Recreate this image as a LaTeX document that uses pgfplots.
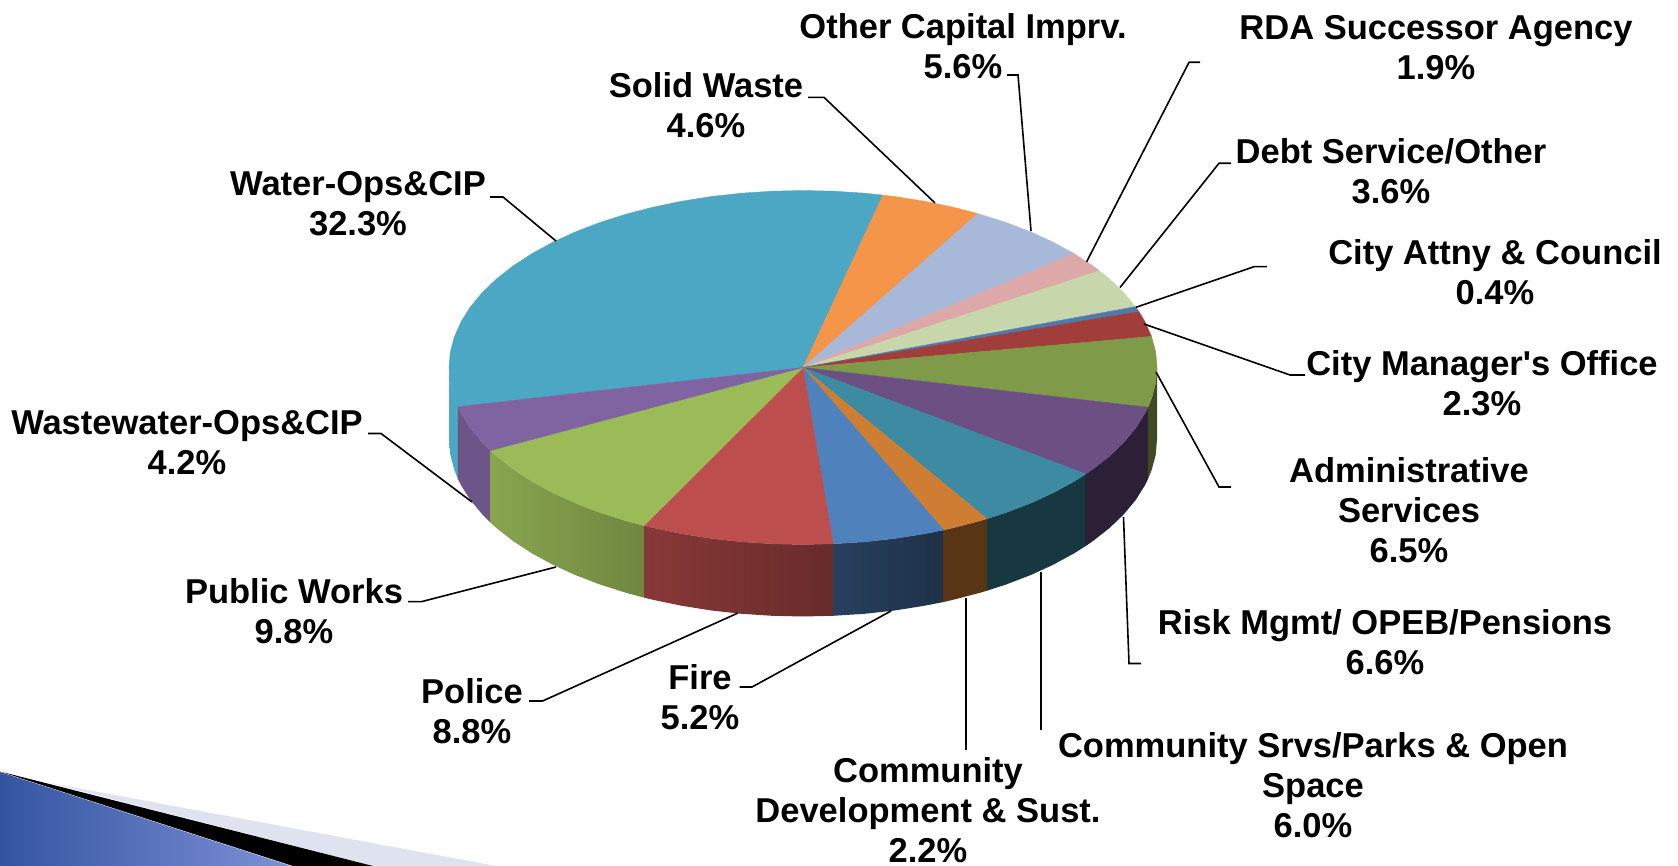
\documentclass[border=0pt]{standalone}
\usepackage{fontspec}
\setmainfont{Liberation Sans}[Ligatures=TeXOff]
\usepackage{pgfplots}
\pgfplotsset{compat=1.18}

% top faces
\definecolor{cWater}{HTML}{4BA7C3}
\definecolor{cSolid}{HTML}{F4954A}
\definecolor{cOther}{HTML}{A7B8D8}
\definecolor{cRDA}{HTML}{DDA9A8}
\definecolor{cDebt}{HTML}{C7D7AB}
\definecolor{cAtty}{HTML}{4F7AAE}
\definecolor{cCM}{HTML}{A13E3B}
\definecolor{cAdmin}{HTML}{7F9A48}
\definecolor{cRisk}{HTML}{6C5084}
\definecolor{cSrv}{HTML}{3C8BA3}
\definecolor{cDev}{HTML}{CE7E33}
\definecolor{cFire}{HTML}{4F81BD}
\definecolor{cPolice}{HTML}{BC4F4D}
\definecolor{cPW}{HTML}{9BBB59}
\definecolor{cWW}{HTML}{8064A2}
\definecolor{cPale}{HTML}{DFE3F0}
\definecolor{cCornerA}{HTML}{3454A0}
\definecolor{cCornerB}{HTML}{7D91D7}

\pgfplotsset{
  top/.style={draw=#1, fill=#1, line width=0.4pt, line join=round},
  side/.style n args={2}{draw=none, left color=#1, right color=#2},
  leader/.style={black, line width=1.6pt, line join=miter},
}

\tikzset{lab/.style={align=center, inner sep=0pt, font=\fontsize{34.5}{40}\selectfont\bfseries}}

\begin{document}
\begin{tikzpicture}
\begin{axis}[
    scale only axis, width=1678pt, height=866pt,
    xmin=0, xmax=1678, ymin=0, ymax=866,
    y dir=reverse, hide axis, clip=false,
  ]
  \path (axis cs:0,0) rectangle (axis cs:1678,866);

  % corner decoration
  \addplot[draw=none, fill=cPale] coordinates {(50,783) (496,866) (373,866)} -- cycle;
  \addplot[draw=none, fill=black] coordinates {(0,771.5) (293,866) (373,866)} -- cycle;
  \addplot[draw=none, left color=cCornerA, right color=cCornerB] coordinates {(0,772) (0,866) (291,866)} -- cycle;

  % side walls
  \addplot[side={cWater}{cWater}] coordinates {(449,367.5) (450.3,382.9) (454.4,398.2) (457.8,406.7) (457.8,478.7) (454.4,470.2) (450.3,454.9) (449,439.5)} -- cycle;
  \addplot[side={cWW!85!black}{cWW!85!black}] coordinates {(457.8,406.7) (461.1,413.3) (470.3,428) (482.2,442.3) (490.4,450.6) (490.4,522.6) (482.2,514.3) (470.3,500) (461.1,485.3) (457.8,478.7)} -- cycle;
  \addplot[side={cPW!88!black}{cPW!72!black}] coordinates {(490.4,450.6) (496.4,456) (513,469) (531.8,481.3) (552.7,492.7) (575.4,503.1) (599.9,512.5) (626,520.8) (644,525.6) (644,597.6) (626,592.8) (599.9,584.5) (575.4,575.1) (552.7,564.7) (531.8,553.3) (513,541) (496.4,528) (490.4,522.6)} -- cycle;
  \addplot[side={cPolice!72!black}{cPolice!55!black}] coordinates {(644,525.6) (653.4,527.9) (681.9,533.8) (711.4,538.5) (741.5,541.8) (772.1,543.8) (803,544.5) (833.2,543.8) (833.2,615.8) (803,616.5) (772.1,615.8) (741.5,613.8) (711.4,610.5) (681.9,605.8) (653.4,599.9) (644,597.6)} -- cycle;
  \addplot[side={cFire!50!black}{cFire!38!black}] coordinates {(833.2,543.8) (864.5,541.8) (894.6,538.5) (924.1,533.8) (943.6,530) (943.6,602) (924.1,605.8) (894.6,610.5) (864.5,613.8) (833.2,615.8)} -- cycle;
  \addplot[side={cDev!42!black}{cDev!42!black}] coordinates {(943.6,530) (952.6,527.9) (980,520.8) (986.9,518.7) (986.9,590.7) (980,592.8) (952.6,599.9) (943.6,602)} -- cycle;
  \addplot[side={cSrv!40!black}{cSrv!40!black}] coordinates {(986.9,518.7) (1006.1,512.5) (1030.6,503.1) (1053.3,492.7) (1074.2,481.3) (1085.7,474) (1085.7,546) (1074.2,553.3) (1053.3,564.7) (1030.6,575.1) (1006.1,584.5) (986.9,590.7)} -- cycle;
  \addplot[side={cRisk!40!black}{cRisk!40!black}] coordinates {(1085.7,474) (1093,469) (1109.6,456) (1123.8,442.3) (1135.7,428) (1144.9,413.3) (1147.9,407.3) (1147.9,479.3) (1144.9,485.3) (1135.7,500) (1123.8,514.3) (1109.6,528) (1093,541) (1085.7,546)} -- cycle;
  \addplot[side={cAdmin!48!black}{cAdmin!48!black}] coordinates {(1147.9,407.3) (1151.6,398.2) (1155.7,382.9) (1157,367.5) (1157,439.5) (1155.7,454.9) (1151.6,470.2) (1147.9,479.3)} -- cycle;

  % top face
  \addplot[top=cWater] coordinates {(803,367.5) (457.8,406.7) (454.4,398.2) (450.3,382.9) (449,367.5) (450.3,352.1) (454.4,336.8) (461.1,321.7) (470.3,307) (482.2,292.7) (496.4,279) (513,266) (531.8,253.7) (552.7,242.3) (575.4,231.9) (599.9,222.5) (626,214.2) (653.4,207.1) (681.9,201.2) (711.4,196.5) (741.5,193.2) (772.1,191.2) (803,190.5) (833.9,191.2) (864.5,193.2) (882.9,195.1)} -- cycle;
  \addplot[top=cSolid] coordinates {(803,367.5) (882.9,195.1) (894.6,196.5) (924.1,201.2) (952.6,207.1) (977.8,213.6)} -- cycle;
  \addplot[top=cOther] coordinates {(803,367.5) (977.8,213.6) (1006.1,222.5) (1030.6,231.9) (1053.3,242.3) (1074.2,253.7)} -- cycle;
  \addplot[top=cRDA] coordinates {(803,367.5) (1074.2,253.7) (1093,266) (1099.5,270.8)} -- cycle;
  \addplot[top=cDebt] coordinates {(803,367.5) (1099.5,270.8) (1109.6,279) (1123.8,292.7) (1135.4,306.7)} -- cycle;
  \addplot[top=cAtty] coordinates {(803,367.5) (1135.4,306.7) (1138.9,311.6)} -- cycle;
  \addplot[top=cCM] coordinates {(803,367.5) (1138.9,311.6) (1144.9,321.7) (1151.5,336.5)} -- cycle;
  \addplot[top=cAdmin] coordinates {(803,367.5) (1151.5,336.5) (1155.7,352.1) (1157,367.5) (1155.7,382.9) (1151.6,398.2) (1147.9,407.3)} -- cycle;
  \addplot[top=cRisk] coordinates {(803,367.5) (1147.9,407.3) (1144.9,413.3) (1135.7,428) (1123.8,442.3) (1109.6,456) (1093,469) (1085.7,474)} -- cycle;
  \addplot[top=cSrv] coordinates {(803,367.5) (1085.7,474) (1074.2,481.3) (1053.3,492.7) (1030.6,503.1) (1006.1,512.5) (986.9,518.7)} -- cycle;
  \addplot[top=cDev] coordinates {(803,367.5) (986.9,518.7) (980,520.8) (952.6,527.9) (943.6,530)} -- cycle;
  \addplot[top=cFire] coordinates {(803,367.5) (943.6,530) (924.1,533.8) (894.6,538.5) (864.5,541.8) (833.2,543.8)} -- cycle;
  \addplot[top=cPolice] coordinates {(803,367.5) (833.2,543.8) (803,544.5) (772.1,543.8) (741.5,541.8) (711.4,538.5) (681.9,533.8) (653.4,527.9) (644,525.6)} -- cycle;
  \addplot[top=cPW] coordinates {(803,367.5) (644,525.6) (626,520.8) (599.9,512.5) (575.4,503.1) (552.7,492.7) (531.8,481.3) (513,469) (496.4,456) (490.4,450.6)} -- cycle;
  \addplot[top=cWW] coordinates {(803,367.5) (490.4,450.6) (482.2,442.3) (470.3,428) (461.1,413.3) (457.8,406.7)} -- cycle;

  % leader lines
  \addplot[leader] coordinates {(490,197) (503,197) (556,241)};
  \addplot[leader] coordinates {(808,97.4) (824,97.4) (935,203)};
  \addplot[leader] coordinates {(1007,75) (1018,75) (1031,231)};
  \addplot[leader] coordinates {(1200,62.3) (1189,62.3) (1086.5,262)};
  \addplot[leader] coordinates {(1231,163.3) (1219,163.3) (1120,287.5)};
  \addplot[leader] coordinates {(1267,266.7) (1254,266.7) (1136,307.3)};
  \addplot[leader] coordinates {(1305,375) (1290,375) (1144,324)};
  \addplot[leader] coordinates {(1231,487) (1219,487) (1156,372)};
  \addplot[leader] coordinates {(1141,663.5) (1129,663.5) (1123.5,517)};
  \addplot[leader] coordinates {(1041,730) (1041,571.7)};
  \addplot[leader] coordinates {(966,750) (966,598)};
  \addplot[leader] coordinates {(739.5,687) (752,687) (891,611)};
  \addplot[leader] coordinates {(529,701) (542.6,701) (738,613)};
  \addplot[leader] coordinates {(408,601.6) (421.7,601.6) (556,567)};
  \addplot[leader] coordinates {(368,433.5) (381,433.5) (472,502)};

  % labels
  \node[lab] at (axis cs:963,46) {Other Capital Imprv.\\5.6\%};
  \node[lab] at (axis cs:1436,48) {RDA Successor Agency\\1.9\%};
  \node[lab] at (axis cs:1391,171) {Debt Service/Other\\3.6\%};
  \node[lab] at (axis cs:1495,272) {City Attny \& Council\\0.4\%};
  \node[lab] at (axis cs:1482,383) {City Manager's Office\\2.3\%};
  \node[lab] at (axis cs:1409,510.6) {Administrative\\Services\\6.5\%};
  \node[lab] at (axis cs:1385,642) {Risk Mgmt/ OPEB/Pensions\\6.6\%};
  \node[lab] at (axis cs:1313,785) {Community Srvs/Parks \& Open\\Space\\6.0\%};
  \node[lab] at (axis cs:928,810) {Community\\Development \& Sust.\\2.2\%};
  \node[lab] at (axis cs:700,697) {Fire\\5.2\%};
  \node[lab] at (axis cs:472,711) {Police\\8.8\%};
  \node[lab] at (axis cs:294,611) {Public Works\\9.8\%};
  \node[lab] at (axis cs:187,443) {Wastewater-Ops\&CIP\\4.2\%};
  \node[lab] at (axis cs:358,204) {Water-Ops\&CIP\\32.3\%};
  \node[lab] at (axis cs:706,105) {Solid Waste\\4.6\%};
\end{axis}
\end{tikzpicture}
\end{document}
